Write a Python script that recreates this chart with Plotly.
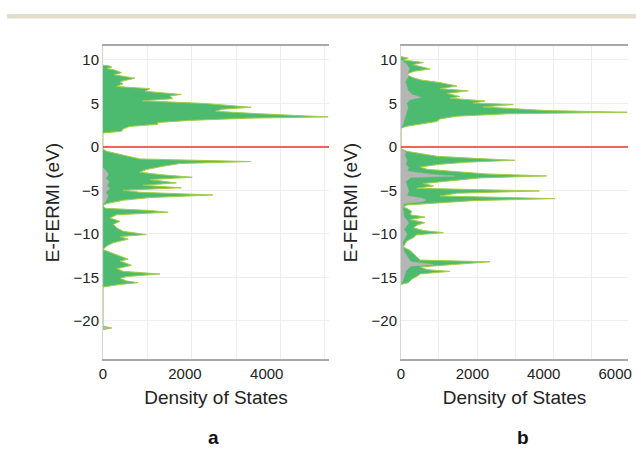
import plotly.graph_objects as go
from plotly.subplots import make_subplots

# ---------------- data ----------------
# Panel a : total DOS (green) and gray component, energies in eV
a_energy = [9.4, 9.3, 9.16, 9.0, 8.85, 8.54, 8.3, 7.9, 7.5, 7.25, 6.95, 6.7, 6.4, 6.03, 5.86,
            5.55, 5.3, 5.0, 4.56, 4.33, 4.1, 3.83, 3.45, 3.3, 3.05, 2.8, 2.6, 2.35, 2.05, 1.8, 1.6,
            -0.23, -0.5, -0.77, -1.07, -1.38, -1.68, -1.91, -2.22, -2.6, -2.9, -3.18, -3.48,
            -3.75, -4.14, -4.4, -4.7, -4.98, -5.21, -5.52, -5.82, -6.13, -6.51, -6.74, -7.05,
            -7.3, -7.5, -7.8, -8.16, -8.54, -8.9, -9.3, -9.7, -10.07, -10.3, -10.6, -11.0, -11.4,
            -11.8, -12.1, -12.5, -12.9, -13.1, -13.6, -14.0, -14.3, -14.6, -14.9, -15.1, -15.4,
            -15.6, -15.8, -16.1, -20.6, -20.8, -21.0]
a_dos = [0, 160, 215, 95, 280, 455, 270, 780, 410, 485, 325, 1145, 1025, 1915, 1630,
         1705, 970, 2480, 3620, 2910, 2750, 3750, 5500, 3535, 2115, 1335, 1335, 645, 485, 455, 0,
         0, 90, 335, 575, 900, 3620, 1875, 1465, 1060, 900, 1390, 2180,
         1145, 1790, 980, 1915, 495, 900, 2685, 1145, 495, 90, 0, 55,
         1145, 1590, 335, 170, 410, 250, 335, 495, 1060, 415, 615, 250, 85,
         0, 170, 415, 615, 415, 695, 335, 495, 1390, 575, 415, 575,
         860, 415, 0, 0, 215, 0]

a_gray_energy = [-2.4, -2.8, -3.2, -3.6, -4.0, -4.4, -4.8, -5.2, -5.6, -6.0, -6.4, -6.6,
                 -20.6, -20.8, -21.0]
a_gray_dos = [0, 85, 130, 65, 150, 95, 160, 65, 130, 85, 45, 0,
              0, 130, 0]

# Panel b
b_energy = [10.38, 10.2, 10.0, 9.7, 9.46, 8.96, 8.7, 8.35, 7.97, 7.7, 7.4, 7.0, 6.7, 6.45,
            6.15, 5.8, 5.6, 5.28, 5.05, 4.87, 4.6, 4.37, 4.18, 3.99, 3.8, 3.53, 3.22, 2.92,
            2.65, 2.38, 2.15,
            -0.23, -0.5, -0.77, -1.07, -1.3, -1.53, -1.76, -2.0, -2.3, -2.57, -2.84, -3.1,
            -3.33, -3.56, -3.9, -4.2, -4.48, -4.75, -5.06, -5.32, -5.63, -5.94, -6.17, -6.4,
            -6.67, -6.9, -7.05, -7.4, -7.8, -8.05, -8.35, -8.7, -9.0, -9.3, -9.6, -9.85, -10.1,
            -10.4, -10.8, -11.2, -11.5, -11.9, -12.3, -12.7, -13.0, -13.2, -13.5, -13.8, -14.1,
            -14.3, -14.6, -14.9, -15.2, -15.6, -15.8]
b_dos = [0, 205, 65, 625, 330, 815, 375, 140, 330, 555, 1090, 1565, 1090, 1885,
         1285, 1650, 1370, 2355, 2025, 3150, 2305, 3525, 4080, 6340, 2955, 1565, 1090, 1005,
         625, 160, 0,
         0, 160, 535, 1005, 2025, 3190, 1840, 1090, 535, 730, 1565, 2400,
         4080, 2215, 1370, 625, 910, 445, 3875, 1565, 1090, 4315, 2025, 1005,
         160, 65, 160, 300, 255, 670, 255, 670, 440, 355, 625, 1190, 440,
         355, 160, 105, 65, 255, 355, 440, 535, 2495, 1370, 535, 730,
         1370, 535, 440, 300, 205, 0]

b_gray_energy = [10.0, 9.5, 9.0, 8.6, 8.0, 7.5, 7.0, 6.5, 6.0, 5.7, 5.4, 5.0, 4.5, 4.0, 3.5,
                 3.0, 2.5, 2.2,
                 -0.3, -0.6, -1.0, -1.5, -2.0, -2.4, -2.8, -3.2, -3.35, -3.5, -4.0, -4.5,
                 -5.0, -5.6, -5.9, -6.1, -6.3, -6.5, -7.0, -8.0, -8.7, -9.5, -10.0, -11.0,
                 -12.0, -13.2, -13.5, -13.7, -14.3, -15.0, -15.8]
b_gray_dos = [0, 160, 235, 195, 195, 120, 160, 195, 320, 555, 235, 160, 195, 160, 120,
              85, 45, 0,
              0, 130, 105, 170, 130, 215, 170, 965, 1500, 270, 130, 170,
              215, 170, 590, 695, 590, 85, 45, 85, 215, 85, 170, 45,
              85, 270, 910, 270, 130, 85, 0]

x_ticks_a = [0, 2000, 4000]
x_ticks_b = [0, 2000, 4000, 6000]
y_ticks = [-20, -15, -10, -5, 0, 5, 10]
panel_labels = ["a", "b"]

# ---------------- styles ----------------
GREEN = "#4dbb6f"
EDGE = "#a2cd45"
GRAY = "#b5b5b5"
GRID = "#eeeeee"
FONT = "Liberation Sans, Arial, sans-serif"
# faint vertical grid lines as drawn in the original (in axis units)
grid_a = [1095, 2165, 3260, 4330, 5400]
grid_b = [1037, 2130, 3195, 4260, 5325]

W, H = 636, 450


def px_x(x):
    return x / W


def px_y(y):
    return 1 - y / H


fig = make_subplots(rows=1, cols=2)

for col, (e, d, ge, gd) in enumerate([(a_energy, a_dos, a_gray_energy, a_gray_dos),
                                       (b_energy, b_dos, b_gray_energy, b_gray_dos)], start=1):
    fig.add_trace(go.Scatter(x=d, y=e, mode="lines", fill="tozerox", fillcolor=GREEN,
                             line=dict(color=EDGE, width=1), showlegend=False,
                             hoverinfo="skip"), row=1, col=col)
    fig.add_trace(go.Scatter(x=gd, y=ge, mode="lines", fill="tozerox", fillcolor=GRAY,
                             line=dict(color=GRAY, width=0.5), showlegend=False,
                             hoverinfo="skip"), row=1, col=col)

y_dom = [px_y(359), px_y(46)]
common_x = dict(showline=True, linecolor="#a8a8a8", linewidth=2, mirror=True,
                showgrid=False, zeroline=False, ticks="", automargin=False,
                ticklabeloverflow="allow",
                tickfont=dict(size=15, color="#222", family=FONT),
                title=dict(text="Density of States", font=dict(size=19, color="#222", family=FONT),
                           standoff=10))
common_y = dict(showline=True, linecolor="#d5d5d5", linewidth=1, showgrid=True,
                gridcolor=GRID, zeroline=False, ticks="", tickvals=y_ticks,
                range=[-24.37, 11.6], domain=y_dom, automargin=False,
                tickfont=dict(size=15, color="#222", family=FONT),
                title=dict(text="E-FERMI (eV)", font=dict(size=19, color="#222", family=FONT),
                           standoff=8))

fig.update_layout(
    xaxis=dict(domain=[px_x(103), px_x(329)], range=[0, 5520], tickvals=x_ticks_a,
               minor=dict(tickvals=grid_a, showgrid=True, gridcolor=GRID), **common_x),
    xaxis2=dict(domain=[px_x(401), px_x(628)], range=[0, 6360], tickvals=x_ticks_b,
                minor=dict(tickvals=grid_b, showgrid=True, gridcolor=GRID), **common_x),
    yaxis=dict(**common_y),
    yaxis2=dict(**common_y),
)

# Fermi level lines
for xr, yr in [("x domain", "y"), ("x2 domain", "y2")]:
    fig.add_shape(type="line", xref=xr, yref=yr, x0=0, x1=1, y0=0, y1=0,
                  line=dict(color="#e8332c", width=1.6))

# decorative top rule
fig.add_shape(type="rect", xref="paper", yref="paper", x0=px_x(7), x1=1,
              y0=px_y(18.6), y1=px_y(14), line=dict(width=0), fillcolor="#e1dccb")

for lab, xp in zip(panel_labels, [213, 523]):
    fig.add_annotation(text="<b>%s</b>" % lab, x=px_x(xp), y=px_y(449), xref="paper",
                       yref="paper", showarrow=False, xanchor="center", yanchor="bottom",
                       borderpad=0, font=dict(size=19, color="#111", family=FONT))

fig.update_layout(width=W, height=H, autosize=False,
                  margin=dict(l=0, r=0, t=0, b=0, pad=0, autoexpand=False),
                  paper_bgcolor="white", plot_bgcolor="white")

# remove the default page margin so the 636x450 figure fills the window exactly
fig.write_html("out.html", config={"displayModeBar": False},
               post_script="document.body.style.margin='0';document.body.style.overflow='hidden';")
